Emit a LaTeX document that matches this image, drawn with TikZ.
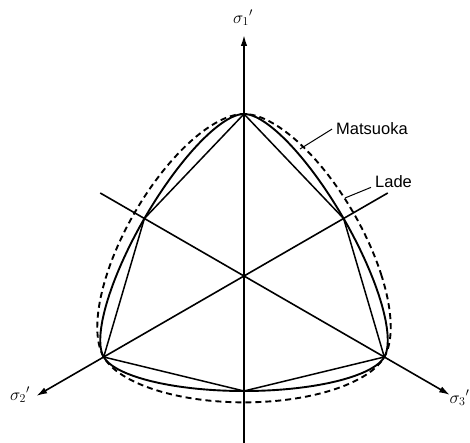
\documentclass[tikz,border=0pt]{standalone}
\usepackage{fontspec}
\setmainfont{Liberation Sans}
\usetikzlibrary{arrows.meta}
\begin{document}
\begin{tikzpicture}[x=1pt,y=1pt,
  axis/.style={line width=1.6pt,-{Latex[length=11pt,width=6.5pt]}},
  hexedge/.style={line width=1.5pt,line join=miter},
  mn/.style={line width=1.9pt,line join=round},
  lade/.style={line width=1.9pt,dash pattern=on 6pt off 4pt},
  lbl/.style={font=\fontsize{16.5}{18}\selectfont,inner sep=0pt},
  sig/.style={font=\fontsize{18}{20}\selectfont,inner sep=0pt},
  leader/.style={line width=1pt},
  declare function={
    th(\p)=acos(min(1,max(-1,cos(3*(\p-30)))))/3;
    ww(\t,\k)=(2*(1-\k*\k)*cos(\t)+(2*\k-1)*sqrt(4*(1-\k*\k)*cos(\t)*cos(\t)+5*\k*\k-4*\k))/(4*(1-\k*\k)*cos(\t)*cos(\t)+(1-2*\k)*(1-2*\k));
  }]
\useasboundingbox (-244,-167) rectangle (226,276);
\clip (-244,-167) rectangle (226,276);

\coordinate (O) at (0,0);
\coordinate (C1) at (90:162);
\coordinate (C2) at (210:162);
\coordinate (C3) at (330:162);
\coordinate (E1) at (270:115);
\coordinate (E2) at (30:115);
\coordinate (E3) at (150:115);

\coordinate (A1t) at (90:241);
\coordinate (A1b) at (0,-175);
\coordinate (A2t) at (210:240);
\coordinate (A2e) at (30:166);
\coordinate (A3t) at (330:238);
\coordinate (A3e) at (150:166);

% axes
\draw[axis] (A1b) -- (A1t);
\draw[axis] (A2e) -- (A2t);
\draw[axis] (A3e) -- (A3t);

% Mohr-Coulomb hexagon
\draw[hexedge] (C1) -- (E2) -- (C3) -- (E1) -- (C2) -- (E3) -- cycle;

% Matsuoka (solid) and Lade (dashed)
\draw[mn] plot[domain=0:360,samples=361] (\x:{162*ww(th(\x),0.71)}) -- cycle;
\draw[lade] plot[domain=0:360,samples=361] (\x:{162*ww(th(\x),0.78)}) -- cycle;

% labels
\node[sig] (l1) at (-1,258) {$\sigma_1{}'$};
\node[sig] (l2) at (-224,-119) {$\sigma_2{}'$};
\node[sig,anchor=east] (l3) at (225.5,-122) {$\sigma_3{}'$};

\node[lbl,anchor=base west] (mat) at (92,141) {Matsuoka};
\node[lbl,anchor=base west] (lad) at (131,88) {Lade};
\coordinate (m1) at (56,127);
\coordinate (d1) at (101,78);
\draw[leader] ([xshift=-4pt]mat.west) -- (m1);
\draw[leader] ([xshift=-4pt,yshift=1pt]lad.south west) -- (d1);
\end{tikzpicture}
\end{document}
